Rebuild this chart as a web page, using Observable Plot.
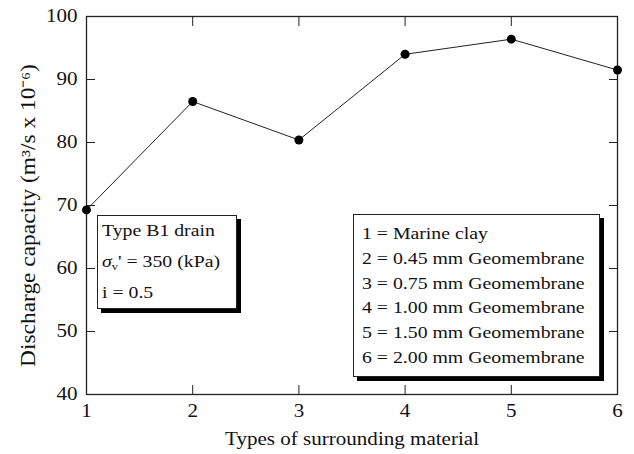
<!DOCTYPE html>
<html>
<head>
<meta charset="utf-8">
<script src="https://cdn.jsdelivr.net/npm/d3@7"></script>
<script src="https://cdn.jsdelivr.net/npm/@observablehq/plot@0.6"></script>
<style>
  html, body { margin: 0; padding: 0; background: #fff; }
  #chart { position: relative; width: 634px; height: 454px; font-family: "Liberation Serif", "Times New Roman", serif; color: #111; }
  .note { position: absolute; background: #fff; border: 1px solid #222; box-shadow: 4px 4px 0 #000; font-size: 17.5px; box-sizing: border-box; }
  .note div { white-space: nowrap; transform-origin: left center; }
  #conditions { left: 97px; top: 215px; width: 140px; height: 94px; padding: 0 0 0 4px; line-height: 31px; }
  #conditions div { transform: translateY(-1px) scaleX(1.13); }
  #materials { left: 353px; top: 214px; width: 247px; height: 163px; padding: 6px 0 0 8px; line-height: 24.8px; }
  #materials div { transform: scaleX(1.13); }
  sub { font-size: 11px; vertical-align: -3px; line-height: 0; }
</style>
</head>
<body>
<div id="chart"></div>
<script>
// Surrounding material type (1–6) and measured discharge capacity
const materialType = [1, 2, 3, 4, 5, 6];
const dischargeCapacity = [69.3, 86.5, 80.4, 94.0, 96.4, 91.5];
const xTicks = [1, 2, 3, 4, 5, 6];
const yTicks = [40, 50, 60, 70, 80, 90, 100];
const xTitle = "Types of surrounding material";
const yTitle = "Discharge capacity (m³/s x 10⁻⁶)";
const materialNames = [
  "Marine clay",
  "0.45 mm Geomembrane",
  "0.75 mm Geomembrane",
  "1.00 mm Geomembrane",
  "1.50 mm Geomembrane",
  "2.00 mm Geomembrane"
];

const data = materialType.map((t, i) => ({type: t, q: dischargeCapacity[i]}));
const blank = () => "";

const chart = Plot.plot({
  width: 634,
  height: 454,
  marginLeft: 86,
  marginRight: 17,
  marginTop: 16,
  marginBottom: 60,
  style: {fontFamily: "'Liberation Serif', 'Times New Roman', serif", fontSize: "18px", color: "#111", background: "#fff"},
  x: {domain: [1, 6]},
  y: {domain: [40, 100]},
  marks: [
    Plot.frame({stroke: "#222", strokeWidth: 1.3}),
    Plot.axisX({ticks: xTicks, tickSize: -9, tickPadding: 19, tickFormat: d => String(d), stroke: "#222",
      label: xTitle, labelAnchor: "center", labelArrow: "none", labelOffset: 50}),
    Plot.axisX({anchor: "top", ticks: xTicks, tickSize: -9, tickFormat: blank, stroke: "#222", label: null}),
    Plot.axisY({ticks: yTicks, tickSize: -9, tickPadding: 18, tickFormat: d => String(d), stroke: "#222", label: null}),
    Plot.axisY({anchor: "right", ticks: yTicks, tickSize: -9, tickFormat: blank, stroke: "#222", label: null}),
    Plot.text([yTitle], {frameAnchor: "left", textAnchor: "middle", text: d => d, rotate: -90, dx: -58, dy: 10, fontSize: 20, fill: "#111"}),
    Plot.line(data, {x: "type", y: "q", stroke: "#222", strokeWidth: 1}),
    Plot.dot(data, {x: "type", y: "q", r: 4.5, fill: "#000", stroke: "none"})
  ]
});

// The serif face is set slightly wide along its reading direction
chart.querySelectorAll("text").forEach(t => {
  const tr = t.getAttribute("transform");
  if (tr) t.setAttribute("transform", tr + " scale(1.17,1)");
});

const host = document.getElementById("chart");
host.appendChild(chart);

const cond = document.createElement("div");
cond.className = "note";
cond.id = "conditions";
cond.innerHTML = "<div>Type B1 drain</div><div><i>σ</i><sub>v</sub>' = 350 (kPa)</div><div>i = 0.5</div>";
host.appendChild(cond);

const mats = document.createElement("div");
mats.className = "note";
mats.id = "materials";
materialNames.forEach((name, i) => {
  const row = document.createElement("div");
  row.textContent = `${materialType[i]} = ${name}`;
  mats.appendChild(row);
});
host.appendChild(mats);
</script>
</body>
</html>
